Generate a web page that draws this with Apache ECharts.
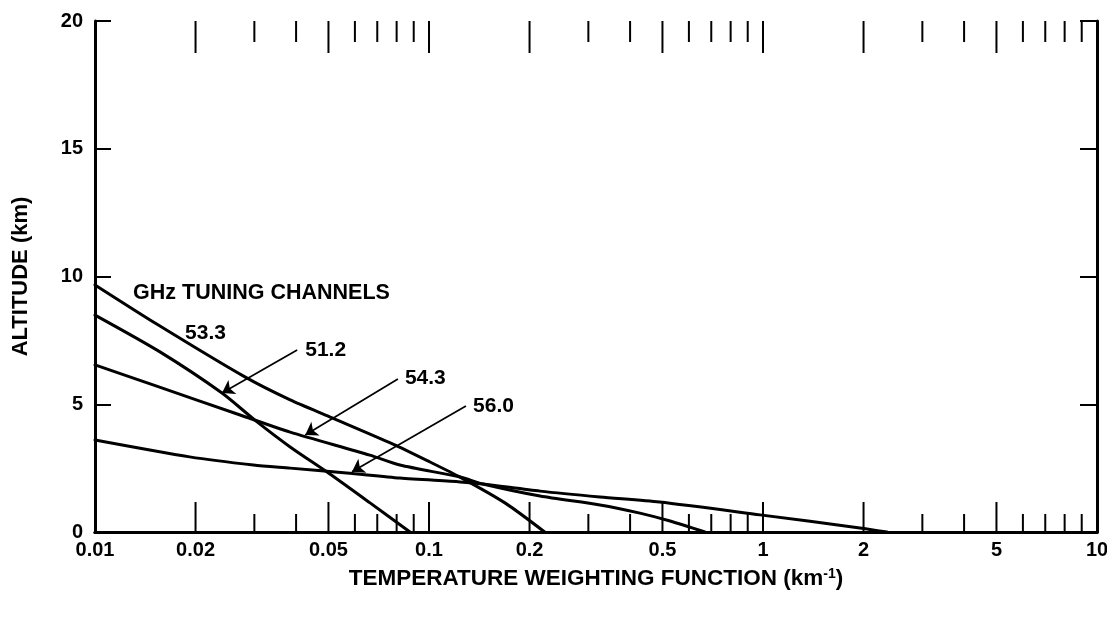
<!DOCTYPE html>
<html><head><meta charset="utf-8">
<script src="https://cdn.jsdelivr.net/npm/echarts@6/dist/echarts.min.js"></script>
<style>html,body{margin:0;padding:0;background:#fff}#c{width:1107px;height:619px}</style>
</head><body><div id="c"></div>
<script>
// ---- data (x = temperature weighting function km^-1, y = altitude km) ----
const ch533 = [[0.01,9.67],[0.0153,8.14],[0.0281,6.07],[0.0384,5.17],[0.0506,4.50],[0.078,3.44],[0.1007,2.74],[0.1238,2.15],[0.1688,1.14],[0.222,0]];
const ch512 = [[0.01,8.49],[0.01565,7.05],[0.0240,5.44],[0.0301,4.38],[0.0384,3.33],[0.0505,2.27],[0.0666,1.14],[0.0877,0]];
const ch543 = [[0.01,6.54],[0.0153,5.71],[0.0272,4.58],[0.0384,3.91],[0.0665,3.01],[0.0818,2.62],[0.124,2.15],[0.145,1.88],[0.215,1.41],[0.325,1.06],[0.428,0.74],[0.527,0.43],[0.67,0]];
const ch560 = [[0.01,3.60],[0.0192,2.94],[0.0298,2.62],[0.0384,2.50],[0.0567,2.31],[0.0818,2.11],[0.124,1.96],[0.145,1.88],[0.215,1.60],[0.325,1.37],[0.49,1.17],[0.98,0.67],[1.95,0.16],[2.35,0]];
const seriesNames = ['53.3','51.2','54.3','56.0'];

// tick values / labels
const xLabelValues = [0.01,0.02,0.05,0.1,0.2,0.5,1,2,5,10];
const xLabelTexts  = ['0.01','0.02','0.05','0.1','0.2','0.5','1','2','5','10'];
const xMajorTicks  = [0.02,0.05,0.1,0.2,0.5,1,2,5];
const xMinorTicks  = [0.03,0.04,0.06,0.07,0.08,0.09,0.3,0.4,0.6,0.7,0.8,0.9,3,4,6,7,8,9];
const yTickValues  = [0,5,10,15,20];

// annotations (anchors in data units)
const noteTexts = ['GHz TUNING CHANNELS','53.3','51.2','54.3','56.0'];
const noteAnchors = [[0.0130,9.35],[0.0186,7.79],[0.0426,7.12],[0.0847,6.03],[0.1355,4.93]];
const arrowFrom = [[0.0403,7.12],[0.0807,5.99],[0.129,4.93]];
const arrowTo   = [[0.0240,5.44],[0.0426,3.80],[0.0588,2.36]];

const FONT = '"Liberation Sans", Arial, Helvetica, sans-serif';
const chart = echarts.init(document.getElementById('c'), null, {renderer:'canvas'});

const tickData = xMajorTicks.map(v => [v, 0, 1]).concat(xMinorTicks.map(v => [v, 0, 0]));

function lineSeries(name, data){
  return {name, type:'line', data, showSymbol:false, symbol:'none', smooth:0.25,
    lineStyle:{color:'#000', width:3, join:'round', cap:'round'}, z:3, silent:true};
}

const lines = [lineSeries(seriesNames[0], ch533), lineSeries(seriesNames[1], ch512), lineSeries(seriesNames[2], ch543), lineSeries(seriesNames[3], ch560)];
lines[1].markLine = {
  silent:true, symbol:['none','arrow'], symbolSize:12, animation:false,
  lineStyle:{color:'#000', width:1.7, type:'solid'}, label:{show:false},
  data: arrowFrom.map((f,i) => [{coord:f}, {coord:arrowTo[i]}])
};

const option = {
  animation:false,
  backgroundColor:'#fff',
  grid:{left:95, right:10, top:21, bottom:87},
  xAxis:[
    {type:'log', logBase:10, min:0.01, max:10, position:'bottom',
     axisLine:{show:true, lineStyle:{color:'#000', width:3}}, axisTick:{show:false}, axisLabel:{show:false},
     splitLine:{show:false}, minorTick:{show:false}, minorSplitLine:{show:false},
     name:'TEMPERATURE WEIGHTING FUNCTION (km{sup|-1})', nameLocation:'middle', nameGap:35,
     nameTextStyle:{color:'#000', fontFamily:FONT, fontWeight:'bold', fontSize:22.5,
       rich:{sup:{fontSize:14, fontWeight:'bold', fontFamily:FONT, color:'#000', verticalAlign:'top', padding:[0,0,10,0]}}}},
    {type:'log', logBase:10, min:0.01, max:10, position:'top',
     axisLine:{show:true, lineStyle:{color:'#000', width:3}}, axisTick:{show:false}, axisLabel:{show:false},
     splitLine:{show:false}}
  ],
  yAxis:[
    {type:'value', min:0, max:20, interval:5, position:'left',
     axisLine:{show:true, lineStyle:{color:'#000', width:3}},
     axisTick:{show:true, inside:true, length:16, lineStyle:{color:'#000', width:2}},
     axisLabel:{color:'#000', fontFamily:FONT, fontWeight:'bold', fontSize:20, margin:12,
       formatter: v => yTickValues.indexOf(v) >= 0 ? String(v) : ''},
     splitLine:{show:false},
     name:'ALTITUDE (km)', nameLocation:'middle', nameGap:63,
     nameTextStyle:{color:'#000', fontFamily:FONT, fontWeight:'bold', fontSize:22}},
    {type:'value', min:0, max:20, interval:5, position:'right',
     axisLine:{show:true, lineStyle:{color:'#000', width:3}},
     axisTick:{show:true, inside:true, length:17, lineStyle:{color:'#000', width:2}},
     axisLabel:{show:false}, splitLine:{show:false}}
  ],
  series:[
    ...lines,
    {name:'xticks', type:'custom', coordinateSystem:'cartesian2d', silent:true, clip:false, z:2,
     data: tickData,
     renderItem:(params, api) => {
       const v = api.value(0), major = api.value(2) === 1;
       const b = api.coord([v, 0]), t = api.coord([v, 20]);
       const lb = major ? 30 : 18, lt = major ? 32 : 21;
       return {type:'group', children:[
         {type:'line', shape:{x1:b[0], y1:b[1], x2:b[0], y2:b[1]-lb}, style:{stroke:'#000', lineWidth:2}},
         {type:'line', shape:{x1:t[0], y1:t[1], x2:t[0], y2:t[1]+lt}, style:{stroke:'#000', lineWidth:2}}
       ]};
     }},
    {name:'xlabels', type:'custom', coordinateSystem:'cartesian2d', silent:true, clip:false, z:2,
     data: xLabelValues.map(v => [v, 0]),
     renderItem:(params, api) => {
       const b = api.coord([api.value(0), 0]);
       return {type:'text', x:b[0], y:b[1]+8,
         style:{text:xLabelTexts[params.dataIndex], fill:'#000', font:'bold 20px ' + FONT, align:'center', verticalAlign:'top'}};
     }},
    {name:'notes', type:'custom', coordinateSystem:'cartesian2d', silent:true, clip:false, z:4,
     data: noteAnchors,
     renderItem:(params, api) => {
       const p = api.coord([api.value(0), api.value(1)]);
       const size = params.dataIndex === 0 ? 21.5 : 21;
       return {type:'text', x:p[0], y:p[1],
         style:{text:noteTexts[params.dataIndex], fill:'#000', font:'bold ' + size + 'px ' + FONT, align:'left', verticalAlign:'middle'}};
     }}
  ]
};
chart.setOption(option);
</script></body></html>
